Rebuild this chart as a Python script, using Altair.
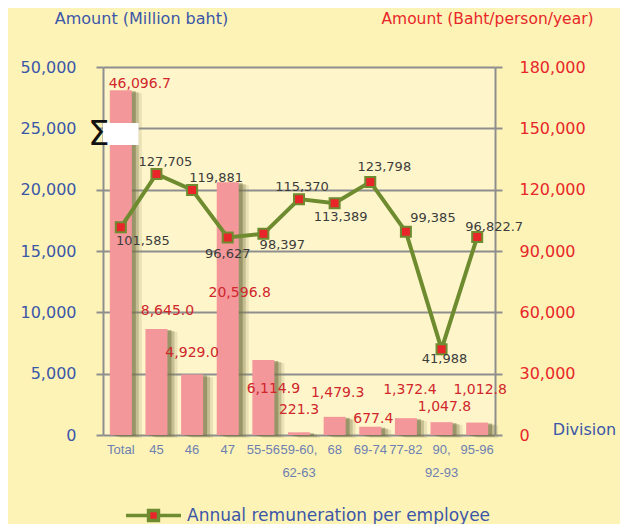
import altair as alt
import pandas as pd

# ---------------- data ----------------
categories = ["Total", "45", "46", "47", "55-56", "59-60,|62-63", "68",
              "69-74", "77-82", "90,|92-93", "95-96"]
amount_million = [46096.7, 8645.0, 4929.0, 20596.8, 6114.9, 221.3,
                  1479.3, 677.4, 1372.4, 1047.8, 1012.8]
amount_text = ["46,096.7", "8,645.0", "4,929.0", "20,596.8", "6,114.9", "221.3",
               "1,479.3", "677.4", "1,372.4", "1,047.8", "1,012.8"]
per_employee = [101585, 127705, 119881, 96627, 98397, 115370,
                113389, 123798, 99385, 41988, 96822.7]
per_employee_text = ["101,585", "127,705", "119,881", "96,627", "98,397", "115,370",
                     "113,389", "123,798", "99,385", "41,988", "96,822.7"]
series_name = "Annual remuneration per employee"

# broken left axis: values above the break are drawn at this height
AXIS_TOP = 30000
BROKEN_BAR_HEIGHT = 28100
BREAK_LO, BREAK_HI = 23640, 25430

# label placement (pixel offsets)
bar_label_dx = [19, 11, 0, 12, 10, 0, 3, 3, 4, 3, 3]
bar_label_dy = [-6, -18, -22, 111, 29, -22, -24, -8, -28, -15, -33]
line_label_dx = [22, 9, 24, 0, 19, 3, 6, 14, 27, 3, 17]
line_label_dy = [14, -12, -12, 17, 11, -12, 14, -15, -14, 10, -10]

df = pd.DataFrame({
    "cat": categories,
    "amount": amount_million,
    "amount_text": amount_text,
    "per_emp": per_employee,
    "per_emp_text": per_employee_text,
    "series": [series_name] * len(categories),
})

FONT = "DejaVu Sans"
BLUE = "#3B57A8"
RED = "#E8262A"
BAR_RED = "#D0262C"
GREEN = "#6E8B30"
GRID = "#8E8E8E"

x_enc = alt.X("cat:N", sort=categories,
              scale=alt.Scale(domain=categories, paddingInner=0, paddingOuter=0),
              axis=alt.Axis(labelExpr="split(datum.label, '|')", labelAngle=0,
                            labelColor="#6E7FB2", labelFontSize=13,
                            labelFont="Liberation Sans",
                            labelLineHeight=23, labelPadding=8, ticks=False, domain=False,
                            title="Division", titleColor=BLUE, titleFontSize=16,
                            titleFont=FONT, titleFontWeight="normal", titleAngle=0,
                            titleX=481, titleY=-6, titleAlign="center",
                            titleBaseline="middle"))

left_scale = alt.Scale(domain=[0, AXIS_TOP], nice=False)
left_axis = alt.Axis(values=[0, 5000, 10000, 15000, 20000, 25000, 30000],
                     labelExpr="datum.value == 30000 ? '50,000' : format(datum.value, ',')",
                     labelColor=BLUE, labelFontSize=16, labelFont=FONT, labelPadding=20,
                     domainColor=GRID, domainWidth=2, tickColor=GRID, tickWidth=2, tickSize=7,
                     grid=True, gridColor=GRID, gridWidth=2,
                     title="Amount  (Million baht)", titleColor=BLUE, titleFontSize=16,
                     titleFont=FONT, titleFontWeight="normal", titleAngle=0,
                     titleX=38, titleY=-49, titleAlign="center", titleBaseline="middle")
right_scale = alt.Scale(domain=[0, 180000], nice=False)
right_axis = alt.Axis(orient="right", values=[0, 30000, 60000, 90000, 120000, 150000, 180000],
                      format=",d", labelColor=RED, labelFontSize=16, labelFont=FONT,
                      labelPadding=17, domainColor=GRID, domainWidth=2, tickColor=GRID,
                      tickWidth=2, tickSize=7, grid=False,
                      title="Amount (Baht/person/year)", titleColor=RED, titleFontSize=15.5,
                      titleFont=FONT, titleFontWeight="normal", titleAngle=0,
                      titleX=-8, titleY=-49, titleAlign="center", titleBaseline="middle")

base = alt.Chart(df).transform_calculate(
    display=f"datum.amount > {AXIS_TOP} ? {BROKEN_BAR_HEIGHT} : datum.amount"
)
y_left = alt.Y("display:Q", scale=left_scale, axis=left_axis)
y_right = alt.Y("per_emp:Q", scale=right_scale, axis=right_axis)

shadow3 = base.mark_bar(size=22, xOffset=10, yOffset=3, color="#8F8B5C", opacity=0.18).encode(x=x_enc, y=y_left)
shadow2 = base.mark_bar(size=22, xOffset=7, yOffset=2, color="#7F7B4E", opacity=0.35).encode(x=x_enc, y=y_left)
shadow1 = base.mark_bar(size=22, xOffset=4, yOffset=1, color="#6F6B42", opacity=0.5).encode(x=x_enc, y=y_left)
bars = base.mark_bar(size=22, color="#F4979B").encode(x=x_enc, y=y_left)

break_df = pd.DataFrame({"cat": ["Total"], "lo": [BREAK_LO], "hi": [BREAK_HI],
                         "mid": [(BREAK_LO + BREAK_HI) / 2]})
break_box = alt.Chart(break_df).mark_rect(color="white").encode(
    x=x_enc, y=alt.Y("lo:Q", scale=left_scale, axis=left_axis), y2="hi:Q")
break_zig = alt.Chart(break_df).mark_text(text="Σ", fontSize=34, color="#111111",
                                          font=FONT, fontWeight="normal", dx=-22, dy=1).encode(
    x=x_enc, y=alt.Y("mid:Q", scale=left_scale, axis=left_axis))

bar_labels = []
for i, c in enumerate(categories):
    bar_labels.append(
        base.transform_filter(alt.datum.cat == c).mark_text(
            font=FONT, fontSize=14, color=BAR_RED, align="center", baseline="middle",
            dx=bar_label_dx[i], dy=bar_label_dy[i]
        ).encode(x=x_enc, y=y_left, text="amount_text:N")
    )

left = alt.layer(shadow3, shadow2, shadow1, bars, break_box, break_zig, *bar_labels)

legend = alt.Legend(orient="none", legendX=21, legendY=419, title=None,
                    symbolType="M-1,0H-0.18M0.18,0H1M-0.18,-0.18H0.18V0.18H-0.18Z",
                    symbolSize=3025, symbolStrokeWidth=3.5, symbolFillColor=RED,
                    symbolStrokeColor=GREEN, labelFont=FONT, labelFontSize=17,
                    labelColor=BLUE, labelOffset=4, labelLimit=0)

line = alt.Chart(df).mark_line(strokeWidth=4).encode(
    x=x_enc, y=y_right,
    stroke=alt.Stroke("series:N", scale=alt.Scale(domain=[series_name], range=[GREEN]),
                      legend=legend))
points = alt.Chart(df).mark_square(size=100, fill=RED, stroke=GREEN, strokeWidth=2,
                                   opacity=1).encode(x=x_enc, y=y_right)
line_labels = []
for i, c in enumerate(categories):
    line_labels.append(
        alt.Chart(df).transform_filter(alt.datum.cat == c).mark_text(
            font=FONT, fontSize=13, color="#3C3C3C", align="center", baseline="middle",
            dx=line_label_dx[i], dy=line_label_dy[i]
        ).encode(x=x_enc, y=y_right, text="per_emp_text:N")
    )

right = alt.layer(line, points, *line_labels)

chart = alt.layer(left, right).resolve_scale(y="independent").properties(
    width=392, height=368,
    padding={"left": 95, "top": 59, "right": 125, "bottom": 89},
    autosize=alt.AutoSizeParams(type="none"),
    background="#FDF3B6",
).configure_view(
    fill="#FEF6CA",
    stroke=None,
)

chart.save("out.html", embed_options={"renderer": "svg", "actions": False})
